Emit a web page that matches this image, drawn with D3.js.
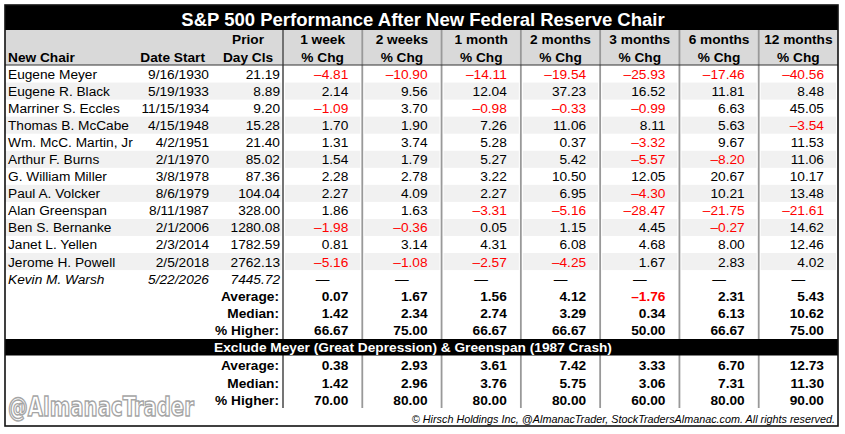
<!DOCTYPE html>
<html>
<head>
<meta charset="utf-8">
<script src="https://cdn.jsdelivr.net/npm/d3@7"></script>
<style>
  body { margin: 0; background: #fff; }
  text { font-family: "Liberation Sans", Arial, sans-serif; }
</style>
</head>
<body>
<svg></svg>
<script>
const width = 845;
const height = 434;

// Table data
const periods = ["1 week", "2 weeks", "1 month", "2 months", "3 months", "6 months", "12 months"];
const chairs = ["Eugene Meyer", "Eugene R. Black", "Marriner S. Eccles", "Thomas B. McCabe",
  "Wm. McC. Martin, Jr", "Arthur F. Burns", "G. William Miller", "Paul A. Volcker",
  "Alan Greenspan", "Ben S. Bernanke", "Janet L. Yellen", "Jerome H. Powell", "Kevin M. Warsh"];
const dateStart = ["9/16/1930", "5/19/1933", "11/15/1934", "4/15/1948", "4/2/1951", "2/1/1970",
  "3/8/1978", "8/6/1979", "8/11/1987", "2/1/2006", "2/3/2014", "2/5/2018", "5/22/2026"];
const priorClose = [21.19, 8.89, 9.20, 15.28, 21.40, 85.02, 87.36, 104.04, 328.00, 1280.08, 1782.59, 2762.13, 7445.72];

const week1 = [-4.81, 2.14, -1.09, 1.70, 1.31, 1.54, 2.28, 2.27, 1.86, -1.98, 0.81, -5.16, null];
const week2 = [-10.90, 9.56, 3.70, 1.90, 3.74, 1.79, 2.78, 4.09, 1.63, -0.36, 3.14, -1.08, null];
const month1 = [-14.11, 12.04, -0.98, 7.26, 5.28, 5.27, 3.22, 2.27, -3.31, 0.05, 4.31, -2.57, null];
const month2 = [-19.54, 37.23, -0.33, 11.06, 0.37, 5.42, 10.50, 6.95, -5.16, 1.15, 6.08, -4.25, null];
const month3 = [-25.93, 16.52, -0.99, 8.11, -3.32, -5.57, 12.05, -4.30, -28.47, 4.45, 4.68, 1.67, null];
const month6 = [-17.46, 11.81, 6.63, 5.63, 9.67, -8.20, 20.67, 10.21, -21.75, -0.27, 8.00, 2.83, null];
const month12 = [-40.56, 8.48, 45.05, -3.54, 11.53, 11.06, 10.17, 13.48, -21.61, 14.62, 12.46, 4.02, null];
const changes = [week1, week2, month1, month2, month3, month6, month12];

const summaryLabels = ["Average:", "Median:", "% Higher:"];
const avgAll = [0.07, 1.67, 1.56, 4.12, -1.76, 2.31, 5.43];
const medianAll = [1.42, 2.34, 2.74, 3.29, 0.34, 6.13, 10.62];
const higherAll = [66.67, 75.00, 66.67, 66.67, 50.00, 66.67, 75.00];
const avgExcl = [0.38, 2.93, 3.61, 7.42, 3.33, 6.70, 12.73];
const medianExcl = [1.42, 2.96, 3.76, 5.75, 3.06, 7.31, 11.30];
const higherExcl = [70.00, 80.00, 80.00, 80.00, 60.00, 80.00, 90.00];

const title = "S&P 500 Performance After New Federal Reserve Chair";
const exclTitle = "Exclude Meyer (Great Depression) & Greenspan (1987 Crash)";
const footer = "\u00a9 Hirsch Holdings Inc, @AlmanacTrader, StockTradersAlmanac.com. All rights reserved.";

const fmt = (v) => (v < 0 ? "\u2013" : "") + d3.format(".2f")(Math.abs(v));
const red = "#ff0000";
const fs = "13.7px";

const svg = d3.select("svg").attr("width", width).attr("height", height);

const L = 5, R = 838, T = 5, B = 426;

const x = d3.scaleBand().domain(periods).range([283, R]);
const bw = x.bandwidth();
const yData = d3.scaleBand().domain(d3.range(16)).range([65.5, 338.3]);
const yExcl = d3.scaleBand().domain(d3.range(3)).range([356.5, 409]);
const rh = yData.bandwidth();

// background
svg.append("rect").attr("x", L).attr("y", T).attr("width", R - L).attr("height", B - T).attr("fill", "#fff");

// header band
svg.append("rect").attr("x", L).attr("y", 30).attr("width", R - L).attr("height", 35).attr("fill", "#d9d9d9");

// zebra shading
chairs.forEach((c, i) => {
  if (i % 2 === 1) {
    svg.append("rect").attr("x", L).attr("y", yData(i)).attr("width", 283 - L - 1.5)
      .attr("height", rh).attr("fill", "#f1f1f1");
    periods.forEach((p) => {
      svg.append("rect").attr("x", x(p) + 2).attr("y", yData(i)).attr("width", bw - 4)
        .attr("height", rh).attr("fill", "#f1f1f1");
    });
  }
});

// column dividers
svg.selectAll("line.div").data(periods).enter().append("line")
  .attr("x1", (d) => x(d)).attr("x2", (d) => x(d))
  .attr("y1", 30).attr("y2", 408)
  .attr("stroke", (d, i) => (i === 0 ? "#666" : "#999"))
  .attr("stroke-width", 1.8);

svg.append("line").attr("x1", L).attr("x2", R).attr("y1", 65).attr("y2", 65)
  .attr("stroke", "#333").attr("stroke-width", 1);

// title bar
svg.append("rect").attr("x", L).attr("y", T).attr("width", R - L).attr("height", 25).attr("fill", "#000");
svg.append("text").attr("x", 423).attr("y", 26).attr("text-anchor", "middle")
  .attr("fill", "#fff").attr("font-weight", "bold").attr("font-size", "18.5px").text(title);

// exclude bar
svg.append("rect").attr("x", L).attr("y", 339).attr("width", R - L).attr("height", 16.5).attr("fill", "#000");
svg.append("text").attr("x", 413).attr("y", 347.3).attr("dy", "0.36em").attr("text-anchor", "middle")
  .attr("fill", "#fff").attr("font-weight", "bold").attr("font-size", fs).text(exclTitle);

// outer border
svg.append("rect").attr("x", L).attr("y", T).attr("width", R - L).attr("height", B - T)
  .attr("fill", "none").attr("stroke", "#111").attr("stroke-width", 1.6);

// header text
const hdr = svg.append("g").attr("font-weight", "bold").attr("font-size", fs).attr("fill", "#000");
hdr.append("text").attr("x", 8).attr("y", 61.5).text("New Chair");
hdr.append("text").attr("x", 205).attr("y", 61.5).attr("text-anchor", "end").text("Date Start");
hdr.append("text").attr("x", 248).attr("y", 44.3).attr("text-anchor", "middle").text("Prior");
hdr.append("text").attr("x", 248).attr("y", 61.5).attr("text-anchor", "middle").text("Day Cls");
hdr.selectAll("text.p1").data(periods).enter().append("text")
  .attr("x", (d) => x(d) + bw / 2).attr("y", 44.3).attr("text-anchor", "middle").text((d) => d);
hdr.selectAll("text.p2").data(periods).enter().append("text")
  .attr("x", (d) => x(d) + bw / 2).attr("y", 61.5).attr("text-anchor", "middle").text("% Chg");

// chair rows
const rows = svg.append("g").attr("font-size", fs);
chairs.forEach((c, i) => {
  const yc = yData(i) + rh / 2;
  const italic = i === chairs.length - 1 ? "italic" : "normal";
  rows.append("text").attr("x", 8).attr("y", yc).attr("dy", "0.36em").attr("font-style", italic).text(c);
  rows.append("text").attr("x", 209).attr("y", yc).attr("dy", "0.36em").attr("text-anchor", "end")
    .attr("font-style", italic).text(dateStart[i]);
  rows.append("text").attr("x", 280).attr("y", yc).attr("dy", "0.36em").attr("text-anchor", "end")
    .attr("font-style", italic).text(fmt(priorClose[i]));
  periods.forEach((p, j) => {
    const v = changes[j][i];
    if (v === null) {
      rows.append("text").attr("x", x(p) + bw / 2).attr("y", yc).attr("dy", "0.36em")
        .attr("text-anchor", "middle").text("\u2014");
    } else {
      rows.append("text").attr("x", x(p) + bw - 14).attr("y", yc).attr("dy", "0.36em")
        .attr("text-anchor", "end").attr("fill", v < 0 ? red : "#000").text(fmt(v));
    }
  });
});

// summary blocks
function summary(sets, yScale, offset) {
  const g = svg.append("g").attr("font-size", fs).attr("font-weight", "bold");
  sets.forEach((vals, k) => {
    const yc = yScale(k + offset) + yScale.bandwidth() / 2;
    g.append("text").attr("x", 279).attr("y", yc).attr("dy", "0.36em").attr("text-anchor", "end")
      .text(summaryLabels[k]);
    g.selectAll(null).data(vals).enter().append("text")
      .attr("x", (d, j) => x(periods[j]) + bw - 14).attr("y", yc).attr("dy", "0.36em")
      .attr("text-anchor", "end").attr("fill", (d) => (d < 0 ? red : "#000")).text((d) => fmt(d));
  });
}
summary([avgAll, medianAll, higherAll], yData, 13);
summary([avgExcl, medianExcl, higherExcl], yExcl, 0);

// footer
svg.append("text").attr("x", 835).attr("y", 422.5).attr("text-anchor", "end")
  .attr("font-style", "italic").attr("font-size", "10.8px").text(footer);

// watermark, squeezed to fit its slot
const wm = svg.append("text").attr("x", 0).attr("y", 0)
  .style("font-family", "'Liberation Sans Narrow', 'DejaVu Sans Condensed', sans-serif")
  .attr("font-weight", "bold").attr("font-size", "26px")
  .attr("fill", "#fff").attr("stroke", "#a5a5a5").attr("stroke-width", 1.4).text("@AlmanacTrader");
const wmLen = wm.node().getComputedTextLength();
wm.attr("transform", `translate(8,415.5) scale(${186 / wmLen},1)`);
</script>
</body>
</html>
